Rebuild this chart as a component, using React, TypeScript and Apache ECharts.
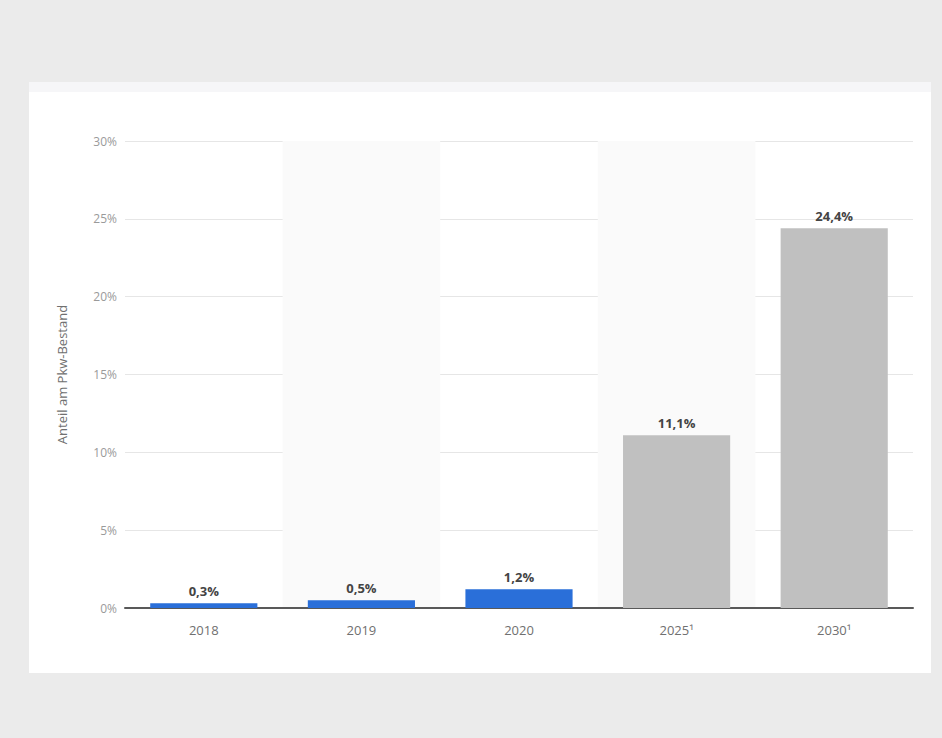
import React, { useEffect, useRef } from "react";
import * as echarts from "echarts";

const categories = ["2018", "2019", "2020", "2025¹", "2030¹"];
const values = [0.3, 0.5, 1.2, 11.1, 24.4];
const barColors = ["#2a6fd9", "#2a6fd9", "#2a6fd9", "#c0c0c0", "#c0c0c0"];
const yTicks = [0, 5, 10, 15, 20, 25, 30];
const yAxisTitle = "Anteil am Pkw-Bestand";

export default function App() {
  const ref = useRef<HTMLDivElement>(null);
  useEffect(() => {
    document.body.style.margin = "0";
    const chart = echarts.init(ref.current!, undefined, { renderer: "svg" });
    const font = "'Open Sans', 'DejaVu Sans', sans-serif";
    chart.setOption({
      animation: false,
      backgroundColor: "#ebebeb",
      textStyle: { fontFamily: font },
      graphic: [
        { type: "rect", z: -10, shape: { x: 29, y: 82, width: 902, height: 591 }, style: { fill: "#ffffff" } },
        { type: "rect", z: -9, shape: { x: 29, y: 82, width: 902, height: 10 }, style: { fill: "#f6f6f8" } },
      ],
      grid: { left: 125, right: 29, top: 141, bottom: 130 },
      xAxis: {
        type: "category",
        data: categories,
        axisLine: { lineStyle: { color: "#595959", width: 2 } },
        axisTick: { show: false },
        axisLabel: { color: "#707070", fontSize: 13, margin: 15, fontFamily: font },
        splitArea: { show: true, areaStyle: { color: ["rgba(0,0,0,0)", "#fafafa"] } },
      },
      yAxis: {
        type: "value",
        min: yTicks[0],
        max: yTicks[yTicks.length - 1],
        interval: 5,
        name: yAxisTitle,
        nameLocation: "middle",
        nameGap: 57,
        nameTextStyle: { color: "#707070", fontSize: 13, fontFamily: font },
        axisLine: { show: false },
        axisTick: { show: false },
        axisLabel: { color: "#9a9a9a", fontSize: 12, margin: 8, formatter: (v: number) => v + "%" },
        splitLine: { lineStyle: { color: "#e6e6e6", width: 1 } },
      },
      series: [
        {
          type: "bar",
          barWidth: "68%",
          data: values.map((v, i) => ({ value: v, itemStyle: { color: barColors[i] } })),
          label: {
            show: true,
            position: "top",
            distance: 6,
            color: "#444444",
            fontSize: 13,
            fontWeight: "bold",
            fontFamily: font,
            formatter: (p: any) => String(p.value.toFixed(1)).replace(".", ",") + "%",
          },
        },
      ],
    });
    return () => chart.dispose();
  }, []);
  return <div ref={ref} style={{ width: 942, height: 738 }} />;
}
